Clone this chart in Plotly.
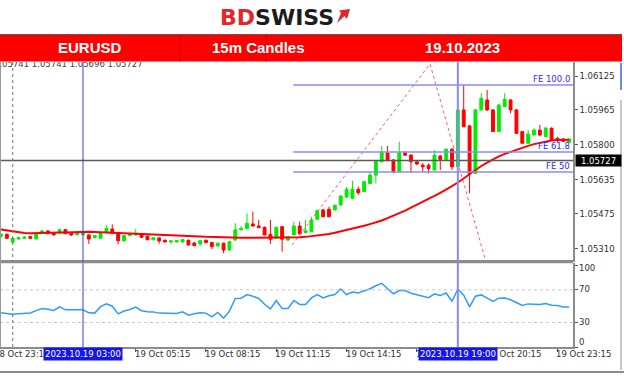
import plotly.graph_objects as go

# ---------------- data ----------------
bar_idx = list(range(1, 99))
opens = [1.05370, 1.05379, 1.05342, 1.05357, 1.05360, 1.05368, 1.05357, 1.05385, 1.05395, 1.05387,
         1.05385, 1.05401, 1.05384, 1.05377, 1.05377, 1.05376, 1.05363, 1.05360, 1.05391, 1.05404,
         1.05387, 1.05348, 1.05373, 1.05376, 1.05382, 1.05370, 1.05353, 1.05362, 1.05351, 1.05343,
         1.05343, 1.05343, 1.05351, 1.05338, 1.05334, 1.05351, 1.05340, 1.05324, 1.05337, 1.05305,
         1.05352, 1.05400, 1.05407, 1.05428, 1.05418, 1.05412, 1.05379, 1.05360, 1.05415, 1.05352,
         1.05376, 1.05418, 1.05387, 1.05391, 1.05450, 1.05494, 1.05497, 1.05494, 1.05517, 1.05555,
         1.05549, 1.05591, 1.05580, 1.05619, 1.05658, 1.05721, 1.05763, 1.05729, 1.05674, 1.05763,
         1.05752, 1.05721, 1.05705, 1.05705, 1.05682, 1.05748, 1.05732, 1.05780, 1.05697, 1.05965,
         1.05890, 1.05666, 1.05965, 1.06012, 1.05965, 1.05863, 1.05980, 1.06012, 1.05965, 1.05863,
         1.05808, 1.05847, 1.05870, 1.05839, 1.05879, 1.05831, 1.05828, 1.05812]
highs = [1.05385, 1.05383, 1.05364, 1.05366, 1.05369, 1.05371, 1.05381, 1.05400, 1.05397, 1.05390,
         1.05404, 1.05404, 1.05390, 1.05385, 1.05385, 1.05378, 1.05376, 1.05388, 1.05423, 1.05426,
         1.05390, 1.05376, 1.05385, 1.05404, 1.05385, 1.05373, 1.05366, 1.05364, 1.05355, 1.05352,
         1.05352, 1.05357, 1.05354, 1.05343, 1.05352, 1.05354, 1.05343, 1.05340, 1.05340, 1.05348,
         1.05431, 1.05418, 1.05478, 1.05486, 1.05447, 1.05415, 1.05447, 1.05414, 1.05418, 1.05371,
         1.05439, 1.05439, 1.05447, 1.05462, 1.05494, 1.05499, 1.05509, 1.05519, 1.05562, 1.05602,
         1.05632, 1.05604, 1.05630, 1.05674, 1.05729, 1.05795, 1.05795, 1.05734, 1.05815, 1.05771,
         1.05757, 1.05724, 1.05715, 1.05713, 1.05776, 1.05752, 1.05783, 1.05786, 1.05970, 1.06083,
         1.05894, 1.05970, 1.06044, 1.06059, 1.05970, 1.05993, 1.06044, 1.06017, 1.05970, 1.05866,
         1.05870, 1.05879, 1.05894, 1.05886, 1.05883, 1.05838, 1.05832, 1.05829]
lows = [1.05362, 1.05357, 1.05338, 1.05355, 1.05358, 1.05358, 1.05355, 1.05383, 1.05381, 1.05374,
        1.05383, 1.05381, 1.05371, 1.05376, 1.05374, 1.05334, 1.05362, 1.05358, 1.05390, 1.05381,
        1.05332, 1.05345, 1.05371, 1.05374, 1.05362, 1.05352, 1.05352, 1.05335, 1.05341, 1.05334,
        1.05341, 1.05341, 1.05326, 1.05322, 1.05324, 1.05337, 1.05309, 1.05322, 1.05290, 1.05303,
        1.05350, 1.05397, 1.05406, 1.05416, 1.05409, 1.05374, 1.05334, 1.05357, 1.05297, 1.05349,
        1.05374, 1.05378, 1.05384, 1.05390, 1.05447, 1.05459, 1.05459, 1.05491, 1.05515, 1.05550,
        1.05546, 1.05565, 1.05579, 1.05616, 1.05619, 1.05719, 1.05724, 1.05666, 1.05672, 1.05748,
        1.05670, 1.05705, 1.05674, 1.05666, 1.05680, 1.05682, 1.05729, 1.05682, 1.05695, 1.05885,
        1.05573, 1.05663, 1.05963, 1.05960, 1.05861, 1.05861, 1.05979, 1.05949, 1.05852, 1.05805,
        1.05805, 1.05845, 1.05842, 1.05838, 1.05819, 1.05814, 1.05814, 1.05810]
closes = [1.05379, 1.05360, 1.05360, 1.05363, 1.05366, 1.05360, 1.05379, 1.05395, 1.05382, 1.05376,
          1.05401, 1.05382, 1.05376, 1.05384, 1.05384, 1.05357, 1.05373, 1.05384, 1.05407, 1.05384,
          1.05349, 1.05373, 1.05379, 1.05384, 1.05365, 1.05353, 1.05363, 1.05348, 1.05343, 1.05348,
          1.05349, 1.05354, 1.05329, 1.05326, 1.05349, 1.05340, 1.05321, 1.05337, 1.05305, 1.05344,
          1.05400, 1.05407, 1.05431, 1.05418, 1.05410, 1.05376, 1.05356, 1.05412, 1.05356, 1.05368,
          1.05418, 1.05381, 1.05396, 1.05447, 1.05491, 1.05462, 1.05462, 1.05516, 1.05560, 1.05591,
          1.05591, 1.05575, 1.05627, 1.05658, 1.05726, 1.05763, 1.05726, 1.05674, 1.05763, 1.05752,
          1.05721, 1.05710, 1.05697, 1.05689, 1.05752, 1.05732, 1.05780, 1.05697, 1.05965, 1.05886,
          1.05666, 1.05965, 1.06020, 1.05965, 1.05863, 1.05988, 1.06015, 1.05965, 1.05855, 1.05808,
          1.05852, 1.05870, 1.05847, 1.05879, 1.05823, 1.05823, 1.05817, 1.05828]
ma_values = [1.05402, 1.05397, 1.05392, 1.05388, 1.05385, 1.05384, 1.05384, 1.05384, 1.05385, 1.05386,
             1.05387, 1.05388, 1.05389, 1.05391, 1.05392, 1.05391, 1.05390, 1.05389, 1.05387, 1.05386,
             1.05384, 1.05383, 1.05382, 1.05380, 1.05379, 1.05378, 1.05377, 1.05376, 1.05376, 1.05375,
             1.05374, 1.05374, 1.05372, 1.05371, 1.05369, 1.05367, 1.05366, 1.05364, 1.05363, 1.05363,
             1.05363, 1.05363, 1.05363, 1.05363, 1.05363, 1.05363, 1.05363, 1.05363, 1.05363, 1.05364,
             1.05364, 1.05365, 1.05367, 1.05370, 1.05372, 1.05376, 1.05381, 1.05386, 1.05392, 1.05400,
             1.05406, 1.05412, 1.05419, 1.05427, 1.05435, 1.05444, 1.05455, 1.05466, 1.05479, 1.05491,
             1.05505, 1.05518, 1.05532, 1.05546, 1.05560, 1.05574, 1.05589, 1.05606, 1.05623, 1.05643,
             1.05663, 1.05684, 1.05701, 1.05717, 1.05733, 1.05746, 1.05758, 1.05768, 1.05778, 1.05788,
             1.05796, 1.05804, 1.05810, 1.05816, 1.05821, 1.05824, 1.05826, 1.05825]
rsi_values = [41.8, 40.9, 40.2, 40.6, 41.1, 41.7, 44.5, 47.2, 46.1, 44.8,
              49.1, 45.5, 45.5, 45.5, 45.5, 41.8, 41.5, 49.4, 52.8, 50.0,
              40.6, 44.1, 46.0, 49.0, 44.5, 43.3, 43.0, 41.5, 41.1, 41.1,
              41.1, 43.0, 39.0, 40.6, 41.8, 41.5, 37.0, 42.3, 35.4, 43.9,
              59.4, 59.8, 64.3, 62.2, 59.4, 52.4, 46.7, 57.0, 47.2, 47.2,
              57.0, 52.1, 52.1, 60.1, 64.3, 60.1, 62.8, 64.3, 71.1, 64.3,
              67.3, 66.2, 68.9, 71.3, 75.0, 78.0, 71.3, 65.2, 69.1, 69.1,
              65.9, 64.0, 62.2, 60.4, 65.2, 63.0, 66.2, 56.1, 71.1, 63.4,
              49.1, 62.2, 63.8, 60.0, 55.9, 59.8, 60.1, 57.9, 54.9, 50.9,
              52.8, 52.4, 52.1, 53.3, 51.2, 50.9, 49.1, 49.1]

price_ticks = [1.06125, 1.05965, 1.05800, 1.05635, 1.05475, 1.05310]
rsi_ticks = [0, 30, 70, 100]
time_tick_idx = [0, 12, 24, 36, 48, 60, 72, 84, 96]
time_tick_labels = ["18 Oct 23:15", "19 Oct 02:15", "19 Oct 05:15", "19 Oct 08:15", "19 Oct 11:15",
                    "19 Oct 14:15", "19 Oct 17:15", "19 Oct 20:15", "19 Oct 23:15"]
marker_idx = [15, 79]
marker_labels = ["2023.10.19 03:00", "2023.10.19 19:00"]
day_sep_idx = 3
fe_levels = [1.06083, 1.05767, 1.05673]
fe_labels = ["FE 100.0", "FE 61.8", "FE 50"]
fe_start_idx = 50.9
fe_wave_idx = [50.7, 74.25, 83.6]
fe_wave_price = [1.05329, 1.06182, 1.05268]
last_price = 1.05727
ohlc_text = "1.05741 1.05741 1.05696 1.05727"
rsi_levels = [30, 70]
title_cells = ["EURUSD", "15m Candles", "19.10.2023"]

# ---------------- layout helpers ----------------
W, H = 624, 376
def px(x):
    return x / W
def py(y):
    return 1 - y / H

PLOT_R = 573
X_RANGE = [0.83, 98.66]
MAIN_TOP, MAIN_BOT = 62, 260
RSI_TOP, RSI_BOT = 262.5, 347
FONT = "DejaVu Sans"

def idx_to_paper(i):
    # position of a bar index on the shared time axis, in paper units
    return (i - X_RANGE[0]) / (X_RANGE[1] - X_RANGE[0]) * px(PLOT_R)

fig = go.Figure()

fig.add_trace(go.Scatter(x=fe_wave_idx, y=fe_wave_price, mode="lines",
                         line=dict(color="#ff5a5a", width=1, dash="dot"),
                         xaxis="x", yaxis="y", hoverinfo="skip"))
fig.add_trace(go.Candlestick(x=bar_idx, open=opens, high=highs, low=lows, close=closes,
                             increasing=dict(line=dict(color="#00ec00", width=1), fillcolor="#00ec00"),
                             decreasing=dict(line=dict(color="#ff0000", width=1), fillcolor="#ff0000"),
                             whiskerwidth=0, xaxis="x", yaxis="y"))
fig.add_trace(go.Scatter(x=bar_idx, y=ma_values, mode="lines",
                         line=dict(color="#ff0000", width=2), xaxis="x", yaxis="y"))
fig.add_trace(go.Scatter(x=[-0.2], y=[1.06176], mode="text", text=[ohlc_text],
                         textposition="middle right", cliponaxis=True,
                         textfont=dict(family=FONT, size=8.5, color="#404040"),
                         xaxis="x", yaxis="y", hoverinfo="skip"))
fig.add_trace(go.Scatter(x=bar_idx, y=rsi_values, mode="lines",
                         line=dict(color="#2f9bff", width=1.5), xaxis="x2", yaxis="y2"))

shapes = []
shapes.append(dict(type="line", xref="x", yref="y", x0=X_RANGE[0], x1=X_RANGE[1],
                   y0=last_price, y1=last_price, line=dict(color="#5a5a5a", width=1.5)))
for lv in fe_levels:
    shapes.append(dict(type="line", xref="x", yref="y", x0=fe_start_idx, x1=X_RANGE[1],
                       y0=lv, y1=lv, line=dict(color="#8a8aff", width=1.5)))
for lv in rsi_levels:
    shapes.append(dict(type="line", xref="x2", yref="y2", x0=X_RANGE[0], x1=X_RANGE[1],
                       y0=lv, y1=lv, line=dict(color="#c8c8c8", width=1, dash="dot")))
shapes.append(dict(type="line", xref="x", yref="paper", x0=day_sep_idx, x1=day_sep_idx,
                   y0=py(RSI_BOT), y1=py(MAIN_TOP), line=dict(color="#707070", width=1, dash="dot")))
shapes.append(dict(type="line", xref="x", yref="paper", x0=marker_idx[0], x1=marker_idx[0],
                   y0=py(RSI_BOT), y1=py(MAIN_TOP), line=dict(color="#3c3cd8", width=1)))
shapes.append(dict(type="line", xref="x", yref="paper", x0=marker_idx[1], x1=marker_idx[1],
                   y0=py(RSI_BOT), y1=py(MAIN_TOP), line=dict(color="#8a8aff", width=2)))
shapes.append(dict(type="line", xref="paper", yref="paper", x0=0, x1=px(PLOT_R),
                   y0=py(RSI_TOP), y1=py(RSI_TOP), line=dict(color="#8c8c8c", width=1.5)))
shapes.append(dict(type="line", xref="paper", yref="paper", x0=px(0.5), x1=px(0.5),
                   y0=py(RSI_BOT), y1=py(MAIN_TOP), line=dict(color="#9a9a9a", width=1)))
shapes.append(dict(type="line", xref="paper", yref="paper", x0=0, x1=1,
                   y0=py(372), y1=py(372), line=dict(color="#8c8c8c", width=2)))
shapes.append(dict(type="line", xref="paper", yref="paper", x0=px(621), x1=px(621),
                   y0=py(100), y1=py(370), line=dict(color="#c8c8c8", width=2)))
shapes.append(dict(type="line", xref="paper", yref="paper", x0=px(621), x1=px(621),
                   y0=py(63), y1=py(90), line=dict(color="#6a8ae8", width=2)))
shapes.append(dict(type="rect", xref="paper", yref="paper", x0=0, x1=px(622),
                   y0=py(61.5), y1=py(34.5), fillcolor="#ff0000", line=dict(width=0), layer="above"))
for xs in [180, 266]:
    shapes.append(dict(type="line", xref="paper", yref="paper", x0=px(xs), x1=px(xs),
                       y0=py(61.5), y1=py(34.5), line=dict(color="#c40000", width=1), layer="above"))
shapes.append(dict(type="line", xref="paper", yref="paper", x0=0, x1=px(622),
                   y0=py(34.5), y1=py(34.5), line=dict(color="#5a5a5a", width=1), layer="above"))
ix, iy = 337, 9
shapes.append(dict(type="path", xref="paper", yref="paper",
                   path=(f"M {px(ix)},{py(iy+14)} L {px(ix+4)},{py(iy+4)} L {px(ix+2)},{py(iy+1.5)} "
                         f"L {px(ix+13)},{py(iy)} L {px(ix+10)},{py(iy+10)} L {px(ix+7.5)},{py(iy+7)} Z"),
                   fillcolor="#e3262b", line=dict(width=0)))

annotations = []
for txt, cx in zip(title_cells, [90, 258, 462]):
    annotations.append(dict(x=px(cx), y=py(48), xref="paper", yref="paper", text=f"<b>{txt}</b>",
                            showarrow=False, font=dict(family="Liberation Sans", size=15, color="white"),
                            xanchor="center", yanchor="middle"))
annotations.append(dict(x=px(336), y=py(17), xref="paper", yref="paper",
                        text="<b><span style='color:#e3262b'>BD</span><span style='color:#1c1c1c'>SWISS</span></b>",
                        showarrow=False, font=dict(family="DejaVu Sans", size=22),
                        xanchor="right", yanchor="middle"))
for lv, lab in zip(fe_levels, fe_labels):
    annotations.append(dict(x=px(572), y=lv, xref="paper", yref="y", text=lab, showarrow=False,
                            font=dict(family=FONT, size=8.5, color="#2a2aff"),
                            xanchor="right", yanchor="bottom", yshift=-1))
annotations.append(dict(x=px(575), y=last_price, xref="paper", yref="y", text=f"{last_price:.5f}",
                        showarrow=False, font=dict(family=FONT, size=8.5, color="white"),
                        bgcolor="#000000", borderpad=0, width=45, height=11, align="center",
                        xanchor="left", yanchor="middle"))
for val, ypx in zip(rsi_ticks, [342, 322, 289, 268]):
    annotations.append(dict(x=px(577), y=py(ypx), xref="paper", yref="paper", text=str(val),
                            showarrow=False, font=dict(family=FONT, size=8.5, color="#303030"),
                            xanchor="left", yanchor="middle"))
for ti, tl in zip(time_tick_idx, time_tick_labels):
    annotations.append(dict(x=idx_to_paper(ti), y=py(354), xref="paper", yref="paper", text=tl,
                            showarrow=False, font=dict(family=FONT, size=8.5, color="#303030"),
                            xanchor="left", yanchor="middle", xshift=-3))
for mi, ml in zip(marker_idx, marker_labels):
    annotations.append(dict(x=idx_to_paper(mi), y=py(354), xref="paper", yref="paper", text=ml,
                            showarrow=False, font=dict(family=FONT, size=8.5, color="white"),
                            bgcolor="#1414f0", borderpad=1, xanchor="center", yanchor="middle"))

fig.update_layout(
    width=W, height=H, margin=dict(l=0, r=0, t=0, b=0),
    paper_bgcolor="white", plot_bgcolor="white", showlegend=False,
    xaxis=dict(domain=[0, px(PLOT_R)], range=X_RANGE, anchor="y", showticklabels=False,
               showgrid=False, zeroline=False, rangeslider=dict(visible=False),
               showline=True, linecolor="#8c8c8c", linewidth=1.5, ticks=""),
    yaxis=dict(domain=[py(MAIN_BOT), py(MAIN_TOP)], range=[1.05258, 1.06191], side="right",
               anchor="x", tickvals=price_ticks, ticktext=[f"{v:.5f}" for v in price_ticks],
               ticks="outside", ticklen=3, tickcolor="#555", showgrid=False, zeroline=False,
               showline=True, linecolor="#8c8c8c", linewidth=1.5,
               tickfont=dict(family=FONT, size=8.5, color="#303030")),
    xaxis2=dict(domain=[0, px(PLOT_R)], range=X_RANGE, anchor="y2", matches="x",
                tickvals=time_tick_idx, showticklabels=False, ticks="outside", ticklen=3,
                tickcolor="#555", showgrid=False, zeroline=False,
                showline=True, linecolor="#8c8c8c", linewidth=1.5),
    yaxis2=dict(domain=[py(RSI_BOT), py(RSI_TOP)], range=[0, 103.5], side="right", anchor="x2",
                tickvals=rsi_ticks, showticklabels=False, ticks="outside", ticklen=3, tickcolor="#555",
                showgrid=False, zeroline=False, showline=True, linecolor="#8c8c8c", linewidth=1.5),
    shapes=shapes, annotations=annotations,
)

fig.write_html("out.html", config={"displayModeBar": False},
               post_script="document.body.style.margin='0px';document.body.style.overflow='hidden';")
